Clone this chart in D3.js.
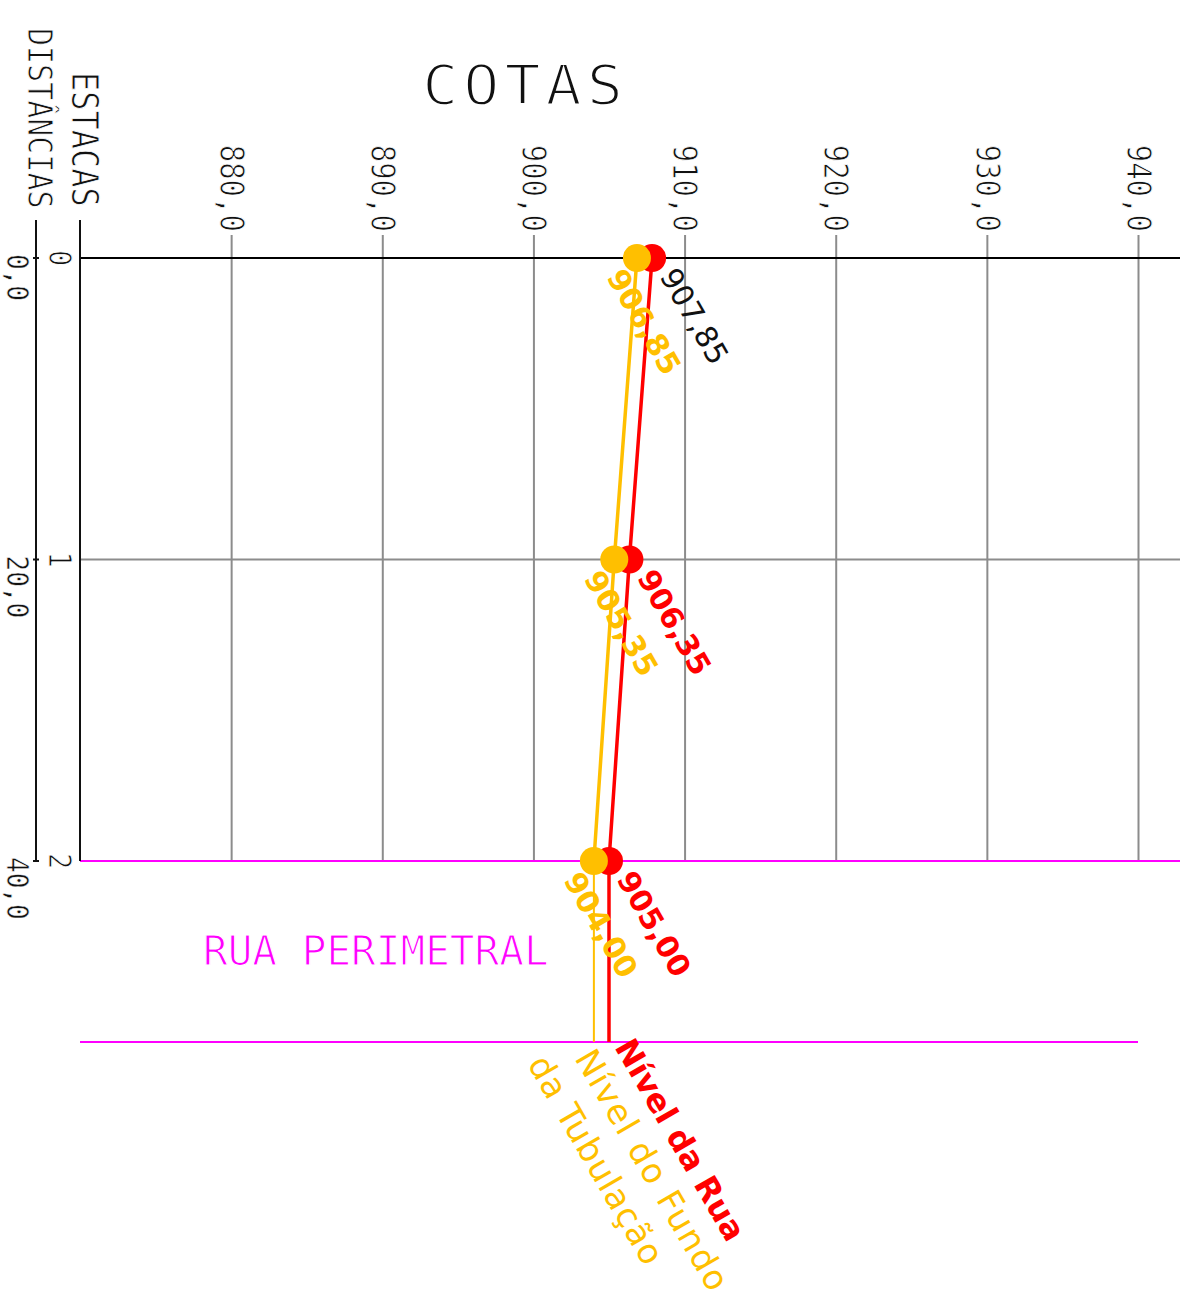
<!DOCTYPE html>
<html><head><meta charset="utf-8">
<script src="https://cdn.jsdelivr.net/npm/d3@7"></script>
<style>
html,body{margin:0;padding:0;background:#fff;}
svg{display:block;}
</style>
</head><body>
<svg id="c" width="1201" height="1303"></svg>
<script>
// ---- data ----
const elevTicks = [880, 890, 900, 910, 920, 930, 940];
const elevTickLabels = ["880,0", "890,0", "900,0", "910,0", "920,0", "930,0", "940,0"];
const stations = ["0", "1", "2"];
const distances = [0, 20, 40];
const distanceLabels = ["0,0", "20,0", "40,0"];
const streetLevel = [907.85, 906.35, 905.00];
const pipeLevel = [906.85, 905.35, 904.00];
const streetLabels = ["907,85", "906,35", "905,00"];
const pipeLabels = ["906,85", "905,35", "904,00"];
const legendBottomDistance = 52;

// ---- layout ----
const svg = d3.select("#c");
const x = d3.scaleLinear().domain([870, 940]).range([80, 1138]);
const y = d3.scaleLinear().domain([0, 40]).range([258, 861]);
const RIGHT = 1180;
const CAD = "'DejaVu Sans Mono', monospace";
const LBL = "'DejaVu Sans', sans-serif";
const RED = "#ff0000", YEL = "#ffbf00", MAG = "#ff00ff", GRAY = "#8c8c8c";

// thin "CAD" look: white outline over the fill
function thin(sel, w) {
  return sel.attr("stroke", "#fff").attr("stroke-width", w).attr("paint-order", "fill");
}

// title
thin(svg.append("text").attr("x", 525).attr("y", 104).attr("text-anchor", "middle")
  .attr("font-family", CAD).attr("font-size", 60).attr("letter-spacing", 5)
  .attr("fill", "#111").attr("transform", "translate(525,104) scale(1,0.92) translate(-525,-104)")
  .text("COTAS"), 2.4);

// headers
function vtext(tx, ty, str, size, anchor, w) {
  return thin(svg.append("text")
    .attr("transform", `translate(${tx},${ty}) rotate(90) scale(1,1.15)`)
    .attr("text-anchor", anchor || "start").attr("dominant-baseline", "central")
    .attr("font-family", CAD).attr("font-size", size).attr("fill", "#111").text(str), w == null ? 0.8 : w);
}
vtext(85, 72, "ESTACAS", 32);
vtext(40, 28, "DISTÂNCIAS", 30);

// elevation axis with vertical grid lines
const elevAxis = d3.axisTop(x).tickValues(elevTicks)
  .tickSizeInner(-(y(40) - 235)).tickSizeOuter(0)
  .tickFormat((d, i) => elevTickLabels[i]);
const ga = svg.append("g").attr("transform", "translate(0,235)").call(elevAxis);
ga.select(".domain").remove();
ga.selectAll(".tick line").attr("stroke", GRAY).attr("stroke-width", 2);
thin(ga.selectAll(".tick text")
  .attr("y", 0).attr("dy", null)
  .attr("transform", "rotate(90) translate(-3,0) scale(1,1.15)")
  .attr("text-anchor", "end").attr("dominant-baseline", "central")
  .attr("font-family", CAD).attr("font-size", 29).attr("fill", "#111"), 0.8);

// station horizontal lines
const hColors = ["#000", GRAY, MAG];
svg.selectAll("line.hs").data(distances).join("line").attr("class", "hs")
  .attr("x1", x(870)).attr("x2", RIGHT)
  .attr("y1", d => y(d)).attr("y2", d => y(d))
  .attr("stroke", (d, i) => hColors[i]).attr("stroke-width", 2);
// legend bottom line
svg.append("line").attr("x1", x(870)).attr("x2", x(940))
  .attr("y1", y(legendBottomDistance)).attr("y2", y(legendBottomDistance))
  .attr("stroke", MAG).attr("stroke-width", 2);

// left axes
svg.append("line").attr("x1", 80).attr("x2", 80).attr("y1", 220).attr("y2", y(40))
  .attr("stroke", "#111").attr("stroke-width", 2);
svg.append("line").attr("x1", 36).attr("x2", 36).attr("y1", 220).attr("y2", y(40))
  .attr("stroke", "#111").attr("stroke-width", 2);
svg.selectAll("line.dt").data(distances).join("line").attr("class", "dt")
  .attr("x1", 33).attr("x2", 39).attr("y1", d => y(d)).attr("y2", d => y(d))
  .attr("stroke", "#111").attr("stroke-width", 2);
distances.forEach((d, i) => {
  vtext(60, y(d), stations[i], 27, "middle");
  vtext(17, y(d) - 4, distanceLabels[i], 26, "start", 0.5);
});

// "RUA PERIMETRAL"
thin(svg.append("text").attr("x", 203).attr("y", 965)
  .attr("font-family", CAD).attr("font-size", 41).attr("fill", MAG)
  .text("RUA PERIMETRAL"), 1.2);

// profile lines
const line = d3.line().x(d => x(d[0])).y(d => y(d[1]));
const pipePts = pipeLevel.map((v, i) => [v, distances[i]]);
const streetPts = streetLevel.map((v, i) => [v, distances[i]]);
svg.append("path").attr("d", line([[pipeLevel[2], distances[2]], [pipeLevel[2], legendBottomDistance]]))
  .attr("stroke", YEL).attr("stroke-width", 2).attr("fill", "none");
svg.append("path").attr("d", line([[streetLevel[2], distances[2]], [streetLevel[2], legendBottomDistance]]))
  .attr("stroke", RED).attr("stroke-width", 3.5).attr("fill", "none");
svg.append("path").attr("d", line(streetPts)).attr("stroke", RED).attr("stroke-width", 3.5).attr("fill", "none");
svg.append("path").attr("d", line(pipePts)).attr("stroke", YEL).attr("stroke-width", 3.5).attr("fill", "none");

// dots
svg.selectAll("circle.s").data(streetPts).join("circle").attr("class", "s")
  .attr("cx", d => x(d[0])).attr("cy", d => y(d[1])).attr("r", 14).attr("fill", RED);
svg.selectAll("circle.p").data(pipePts).join("circle").attr("class", "p")
  .attr("cx", d => x(d[0])).attr("cy", d => y(d[1])).attr("r", 14).attr("fill", YEL);

// value labels (rotated 60°)
streetPts.forEach((d, i) => {
  svg.append("text")
    .attr("transform", `translate(${x(d[0]) + 7},${y(d[1]) + 18}) rotate(60)`)
    .attr("font-family", LBL).attr("font-size", 30)
    .attr("font-weight", i === 0 ? "normal" : "bold")
    .attr("fill", i === 0 ? "#111" : RED).text(streetLabels[i]);
});
pipePts.forEach((d, i) => {
  svg.append("text")
    .attr("transform", `translate(${x(d[0]) - 31},${y(d[1]) + 19}) rotate(60)`)
    .attr("font-family", LBL).attr("font-size", 30).attr("font-weight", "bold")
    .attr("fill", YEL).text(pipeLabels[i]);
});

// legend labels
svg.append("text").attr("transform", "translate(614,1047) rotate(60)")
  .attr("font-family", LBL).attr("font-size", 32).attr("font-weight", "bold")
  .attr("fill", RED).text("Nível da Rua");
svg.append("text").attr("transform", "translate(574,1058) rotate(60)")
  .attr("font-family", LBL).attr("font-size", 34).attr("letter-spacing", 1.5)
  .attr("fill", YEL).text("Nível do Fundo");
svg.append("text").attr("transform", "translate(527,1064) rotate(60)")
  .attr("font-family", LBL).attr("font-size", 34).attr("letter-spacing", 1)
  .attr("fill", YEL).text("da Tubulação");
</script>
</body></html>
